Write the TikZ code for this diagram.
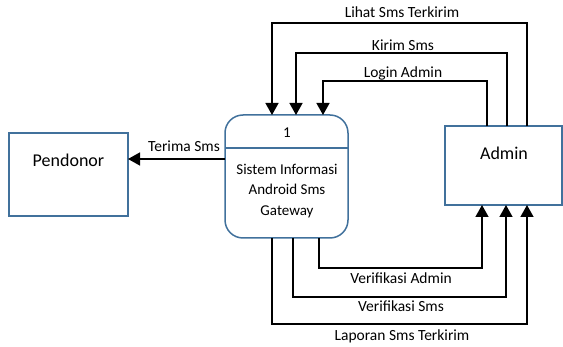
\documentclass[tikz,border=0pt]{standalone}
\usepackage{fontspec}
\setmainfont{Carlito}
\usetikzlibrary{arrows.meta}
\definecolor{boxblue}{RGB}{65,113,156}
\begin{document}
\begin{tikzpicture}[x=1pt,y=-1pt,
  entity/.style={draw=boxblue,line width=1.5pt,fill=white},
  flow/.style={draw=black,line width=1.4pt,-{Triangle[width=13pt,length=12pt]}},
  lbl/.style={font=\fontsize{15.5}{18}\selectfont,inner sep=0pt}]
\useasboundingbox (0,0) rectangle (563,347);
% Pendonor
\draw[entity] (9,133) rectangle (128,216);
\node[font=\fontsize{18}{20}\selectfont] (pend) at (68.5,160) {Pendonor};
\coordinate (pendR) at (128,159);
% Admin
\draw[entity] (445,126) rectangle (562,205);
\node[font=\fontsize{18}{20}\selectfont] (admin) at (504,153) {Admin};
% Process
\draw[entity,rounded corners=18pt] (225,115) rectangle (348,238);
\draw[boxblue,line width=1.5pt] (225,148) -- (348,148);
\node[font=\fontsize{15}{16}\selectfont] (pnum) at (287,133) {1};
\node[font=\fontsize{15}{20.5}\selectfont,align=center] (proc) at (287,191) {Sistem Informasi\\Android Sms\\Gateway};
% anchor coordinates
\coordinate (pL) at (225,159);
\coordinate (pT1) at (272,115);
\coordinate (pT2) at (296,115);
\coordinate (pT3) at (323,115);
\coordinate (pB1) at (272,238);
\coordinate (pB2) at (293,238);
\coordinate (pB3) at (319,238);
\coordinate (aT1) at (527,126);
\coordinate (aT2) at (507,126);
\coordinate (aT3) at (487,126);
\coordinate (aB1) at (527,205);
\coordinate (aB2) at (506,205);
\coordinate (aB3) at (482,205);
% Terima Sms
\draw[flow] (pL) -- (pendR);
\node[lbl] (t0) at (184,146) {Terima Sms};
% Top flows
\draw[flow] (aT1) -- (527,23) -- (272,23) -- (pT1);
\draw[flow] (aT2) -- (507,53) -- (296,53) -- (pT2);
\draw[flow] (aT3) -- (487,81) -- (323,81) -- (pT3);
\node[lbl] (t1) at (402,12) {Lihat Sms Terkirim};
\node[lbl] (t2) at (403,45) {Kirim Sms};
\node[lbl] (t3) at (403,73) {Login Admin};
% Bottom flows
\draw[flow] (pB3) -- (319,268) -- (482,268) -- (aB3);
\draw[flow] (pB2) -- (293,297) -- (506,297) -- (aB2);
\draw[flow] (pB1) -- (272,324) -- (527,324) -- (aB1);
\node[lbl] (b1) at (401,278) {Verifikasi Admin};
\node[lbl] (b2) at (401,306) {Verifikasi Sms};
\node[lbl] (b3) at (402,336) {Laporan Sms Terkirim};
\end{tikzpicture}
\end{document}
